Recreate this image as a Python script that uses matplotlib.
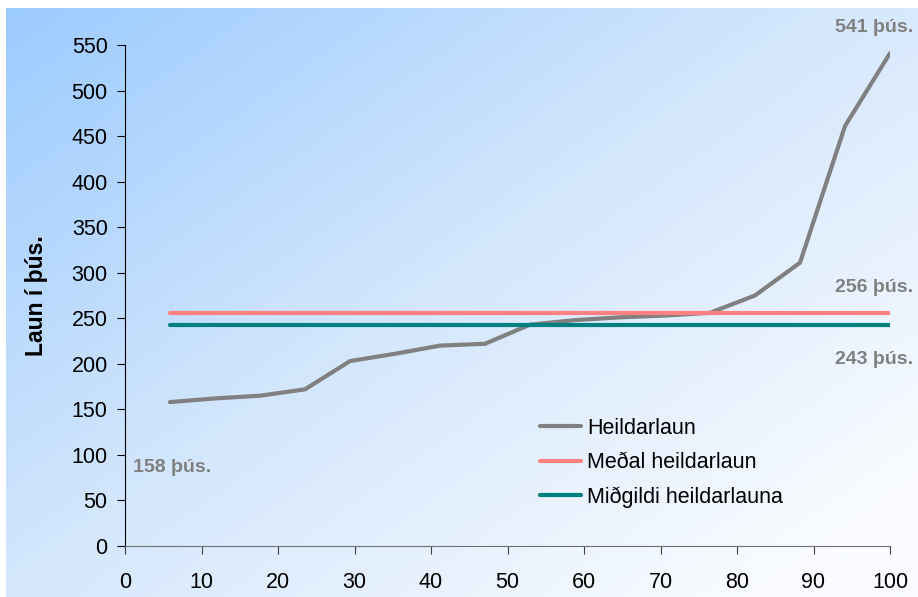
import numpy as np
import matplotlib
matplotlib.use("Agg")
import matplotlib.pyplot as plt
from matplotlib.colors import LinearSegmentedColormap

plt.rcParams['font.family'] = ['Liberation Sans', 'DejaVu Sans']

# Data
percentiles = [100 * i / 17 for i in range(1, 18)]
heildarlaun = [158, 162, 165, 172, 203, 211, 220, 222, 243, 248, 251, 253, 256, 275, 311, 461, 541]
medal = 256
midgildi = 243
x_ticks = list(range(0, 101, 10))
y_ticks = list(range(0, 551, 50))
labels = ["Heildarlaun", "Meðal heildarlaun", "Miðgildi heildarlauna"]
colors = ["#808080", "#FF8080", "#008080"]

W, H = 918, 597
fig = plt.figure(figsize=(W / 100, H / 100), dpi=100)
fig.patch.set_facecolor("white")

# gradient background
bg = fig.add_axes([6 / W, 0, 1 - 6 / W, (H - 8) / H])
bg.set_axis_off()
ny, nx = 200, 300
yy, xx = np.mgrid[0:1:ny * 1j, 0:1:nx * 1j]
t = np.clip((xx * 0.6 + yy * 0.55) / 1.05, 0, 1)
cmap = LinearSegmentedColormap.from_list("g", [(0, "#9ccbff"), (0.5, "#d2e6fc"), (1, "#fafcff")])
bg.imshow(t, cmap=cmap, aspect="auto", extent=[0, 1, 1, 0], interpolation="bicubic")
bg.set_xlim(0, 1)
bg.set_ylim(1, 0)

ax = fig.add_axes([125 / W, (H - 546) / H, (890 - 125) / W, (546 - 45) / H])
ax.patch.set_alpha(0)

ax.plot(percentiles, heildarlaun, color=colors[0], lw=3, label=labels[0], solid_capstyle="round", solid_joinstyle="miter")
ax.plot([percentiles[0], percentiles[-1]], [medal, medal], color=colors[1], lw=3, label=labels[1], solid_capstyle="round")
ax.plot([percentiles[0], percentiles[-1]], [midgildi, midgildi], color=colors[2], lw=3, label=labels[2], solid_capstyle="round")

ax.set_xlim(0, 100)
ax.set_ylim(0, 550)
ax.set_xticks(x_ticks)
ax.set_yticks(y_ticks)
for s in ["top", "right"]:
    ax.spines[s].set_visible(False)
ax.spines["left"].set_color("black")
ax.spines["bottom"].set_color("#707070")
ax.tick_params(axis="both", direction="out", length=5.5, width=0.8, labelsize=15.5, labelcolor="black")
ax.tick_params(axis="x", pad=13, color="#404040")
ax.tick_params(axis="y", pad=7, color="black")

ax.set_ylabel("Laun í þús.", fontsize=16.5, fontweight="bold", labelpad=17)

ann = dict(color="#808080", fontsize=14, fontweight="bold", ha="center", va="center", clip_on=False)
ax.text(97.9, 569, f"{heildarlaun[-1]} þús.", **ann)
ax.text(97.9, 284, f"{medal} þús.", **ann)
ax.text(97.9, 205, f"{midgildi} þús.", **ann)
ax.text(6.1, 86, f"{heildarlaun[0]} þús.", **ann)

leg = ax.legend(loc="upper left", bbox_to_anchor=(0.5425, 0.256), frameon=False, fontsize=15.5,
                handlelength=1.9, labelspacing=0.62, handletextpad=0.3, borderpad=0, borderaxespad=0)

fig.savefig("out.png", dpi=100)
